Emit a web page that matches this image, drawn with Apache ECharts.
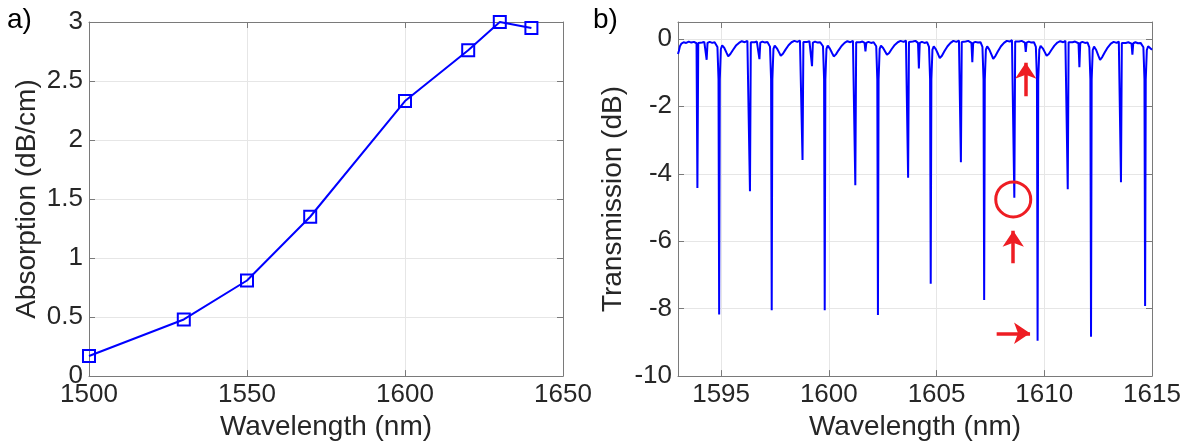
<!DOCTYPE html>
<html><head><meta charset="utf-8">
<script src="https://cdn.jsdelivr.net/npm/echarts@6/dist/echarts.min.js"></script>
<style>html,body{margin:0;padding:0;background:#fff}#c{width:1185px;height:446px}</style>
</head><body><div id="c"></div>
<script>
// ---- Panel a data ----
const absWavelength = [1500, 1530, 1550, 1570, 1600, 1620, 1630, 1640];
const absorption = [0.17, 0.48, 0.81, 1.35, 2.33, 2.76, 3.00, 2.95];

// ---- Panel b data: [wavelength (nm), transmission (dB)] ----
const transmission = [
[1593.00,-0.45],[1593.04,-0.36],[1593.09,-0.22],[1593.16,-0.14],[1593.26,-0.10],[1593.38,-0.12],[1593.50,-0.08],[1593.62,-0.11],[1593.74,-0.09],[1593.86,-0.13],
[1593.90,-4.42],[1593.94,-0.12],[1594.02,-0.08],[1594.12,-0.11],[1594.22,-0.09],[1594.29,-0.13],
[1594.33,-0.62],[1594.37,-0.12],[1594.47,-0.09],[1594.59,-0.12],[1594.70,-0.10],[1594.83,-0.24],[1594.88,-1.2],
[1594.91,-8.17],[1594.94,-1.2],[1594.99,-0.30],[1595.05,-0.19],[1595.15,-0.27],[1595.25,-0.41],[1595.33,-0.52],[1595.43,-0.45],[1595.55,-0.33],[1595.69,-0.20],[1595.83,-0.12],[1595.96,-0.07],[1596.10,-0.10],[1596.22,-0.06],[1596.30,-0.11],
[1596.34,-4.52],[1596.38,-0.10],[1596.46,-0.07],[1596.56,-0.10],[1596.66,-0.08],[1596.74,-0.12],
[1596.78,-0.60],[1596.82,-0.11],[1596.92,-0.08],[1597.04,-0.11],[1597.15,-0.09],[1597.27,-0.23],[1597.32,-1.2],
[1597.35,-8.05],[1597.38,-1.2],[1597.43,-0.30],[1597.49,-0.20],[1597.59,-0.28],[1597.69,-0.40],[1597.77,-0.50],[1597.87,-0.44],[1597.99,-0.32],[1598.13,-0.19],[1598.27,-0.10],[1598.40,-0.06],[1598.54,-0.09],[1598.66,-0.05],[1598.74,-0.10],
[1598.78,-3.59],[1598.82,-0.09],[1598.90,-0.06],[1599.00,-0.09],[1599.10,-0.07],[1599.18,-0.12],
[1599.22,-0.81],[1599.26,-0.11],[1599.36,-0.08],[1599.48,-0.11],[1599.60,-0.10],[1599.73,-0.22],[1599.78,-1.2],
[1599.81,-8.05],[1599.84,-1.2],[1599.89,-0.30],[1599.95,-0.20],[1600.05,-0.29],[1600.15,-0.42],[1600.23,-0.52],[1600.33,-0.46],[1600.45,-0.34],[1600.59,-0.21],[1600.73,-0.12],[1600.86,-0.07],[1601.00,-0.10],[1601.12,-0.06],[1601.19,-0.11],
[1601.23,-4.34],[1601.27,-0.10],[1601.35,-0.07],[1601.45,-0.10],[1601.56,-0.08],[1601.66,-0.12],
[1601.70,-0.37],[1601.74,-0.12],[1601.84,-0.09],[1601.96,-0.12],[1602.08,-0.10],[1602.20,-0.22],[1602.25,-1.2],
[1602.28,-8.19],[1602.31,-1.2],[1602.36,-0.30],[1602.42,-0.20],[1602.52,-0.27],[1602.62,-0.38],[1602.70,-0.47],[1602.80,-0.42],[1602.92,-0.30],[1603.06,-0.18],[1603.20,-0.10],[1603.33,-0.06],[1603.47,-0.09],[1603.58,-0.05],[1603.64,-0.10],
[1603.68,-4.12],[1603.72,-0.09],[1603.80,-0.05],[1603.90,-0.08],[1604.02,-0.06],[1604.14,-0.12],
[1604.18,-0.88],[1604.22,-0.12],[1604.32,-0.09],[1604.44,-0.12],[1604.56,-0.10],[1604.65,-0.24],[1604.70,-1.2],
[1604.73,-7.26],[1604.76,-1.2],[1604.81,-0.32],[1604.87,-0.22],[1604.97,-0.31],[1605.07,-0.45],[1605.15,-0.57],[1605.25,-0.50],[1605.37,-0.36],[1605.51,-0.22],[1605.65,-0.12],[1605.78,-0.06],[1605.92,-0.09],[1606.04,-0.05],[1606.09,-0.10],
[1606.13,-3.66],[1606.17,-0.09],[1606.25,-0.05],[1606.35,-0.08],[1606.47,-0.06],[1606.62,-0.12],
[1606.66,-0.69],[1606.70,-0.12],[1606.80,-0.09],[1606.92,-0.11],[1607.04,-0.10],[1607.13,-0.24],[1607.18,-1.2],
[1607.21,-7.74],[1607.24,-1.2],[1607.29,-0.32],[1607.35,-0.22],[1607.45,-0.32],[1607.55,-0.47],[1607.63,-0.59],[1607.73,-0.51],[1607.85,-0.37],[1607.99,-0.22],[1608.13,-0.12],[1608.26,-0.06],[1608.40,-0.08],[1608.50,-0.04],[1608.57,-0.09],
[1608.61,-4.71],[1608.65,-0.08],[1608.73,-0.05],[1608.83,-0.08],[1608.95,-0.06],[1609.10,-0.11],
[1609.14,-0.39],[1609.18,-0.11],[1609.28,-0.08],[1609.40,-0.11],[1609.52,-0.10],[1609.61,-0.24],[1609.66,-1.2],
[1609.69,-8.95],[1609.72,-1.2],[1609.77,-0.32],[1609.83,-0.21],[1609.93,-0.28],[1610.03,-0.40],[1610.11,-0.50],[1610.21,-0.45],[1610.33,-0.33],[1610.47,-0.20],[1610.61,-0.11],[1610.74,-0.07],[1610.88,-0.10],[1610.98,-0.06],[1611.05,-0.11],
[1611.09,-4.46],[1611.13,-0.10],[1611.21,-0.07],[1611.31,-0.10],[1611.43,-0.08],[1611.59,-0.13],
[1611.63,-0.84],[1611.67,-0.12],[1611.77,-0.09],[1611.89,-0.12],[1612.01,-0.11],[1612.09,-0.25],[1612.14,-1.2],
[1612.17,-8.83],[1612.20,-1.2],[1612.25,-0.33],[1612.31,-0.23],[1612.41,-0.33],[1612.51,-0.50],[1612.59,-0.62],[1612.69,-0.54],[1612.81,-0.40],[1612.95,-0.25],[1613.09,-0.14],[1613.22,-0.09],[1613.36,-0.12],[1613.46,-0.08],[1613.52,-0.13],
[1613.56,-4.25],[1613.60,-0.12],[1613.68,-0.09],[1613.78,-0.12],[1613.90,-0.10],[1614.05,-0.14],
[1614.09,-0.47],[1614.13,-0.13],[1614.23,-0.10],[1614.35,-0.13],[1614.47,-0.12],[1614.60,-0.25],[1614.65,-1.2],
[1614.68,-7.92],[1614.71,-1.2],[1614.76,-0.33],[1614.82,-0.22],[1614.91,-0.27],[1615.00,-0.32]
];

// ---- Annotations (data coordinates of panel b) ----
const circleCenter = [1608.56, -4.76];
const arrowSegments = [
  [[1608.56, -6.65], [1608.56, -5.69]],
  [[1609.14, -1.70], [1609.14, -0.71]],
  [[1607.79, -8.73], [1609.34, -8.73]]
];

const FONT = '"Liberation Sans", Arial, Helvetica, sans-serif';
const TXT = '#262626';
const AX = '#7a7a7a';
const GRIDC = '#e6e6e6';
const BLUE = '#0000ff';
const RED = '#ee1d23';
const TICK_FS = 26, TITLE_FS = 28;

function baseAxis(extra) {
  return Object.assign({
    type: 'value',
    axisLine: { show: true, onZero: false, lineStyle: { color: AX, width: 1 } },
    axisTick: { show: true, inside: true, length: 6, lineStyle: { color: AX, width: 1 } },
    axisLabel: { color: TXT, fontSize: TICK_FS, fontFamily: FONT, margin: 6, formatter: v => String(v) },
    splitLine: { show: true, lineStyle: { color: GRIDC, width: 1 } },
    nameTextStyle: { color: TXT, fontSize: TITLE_FS, fontFamily: FONT }
  }, extra);
}
function mirrorAxis(extra) {
  return Object.assign(baseAxis(extra), {
    axisLabel: { show: false },
    splitLine: { show: false }
  });
}

const chart = echarts.init(document.getElementById('c'), null, { renderer: 'canvas' });
chart.setOption({
  backgroundColor: '#ffffff',
  animation: false,
  textStyle: { fontFamily: FONT },
  grid: [
    { left: 89, top: 22, width: 474, height: 357 },
    { left: 678, top: 22, width: 474, height: 357 }
  ],
  xAxis: [
    baseAxis({ gridIndex: 0, position: 'bottom', min: 1500, max: 1650, interval: 50,
      name: 'Wavelength (nm)', nameLocation: 'middle', nameGap: 31 }),
    mirrorAxis({ gridIndex: 0, position: 'top', min: 1500, max: 1650, interval: 50 }),
    baseAxis({ gridIndex: 1, position: 'bottom', min: 1593, max: 1615, splitNumber: 5,
      name: 'Wavelength (nm)', nameLocation: 'middle', nameGap: 31 }),
    mirrorAxis({ gridIndex: 1, position: 'top', min: 1593, max: 1615, splitNumber: 5 })
  ],
  yAxis: [
    baseAxis({ gridIndex: 0, position: 'left', min: 0, max: 3, interval: 0.5,
      name: 'Absorption (dB/cm)', nameLocation: 'middle', nameGap: 48 }),
    mirrorAxis({ gridIndex: 0, position: 'right', min: 0, max: 3, interval: 0.5 }),
    baseAxis({ gridIndex: 1, position: 'left', min: -10, max: 0.5, interval: 2,
      name: 'Transmission (dB)', nameLocation: 'middle', nameGap: 51 }),
    mirrorAxis({ gridIndex: 1, position: 'right', min: -10, max: 0.5, interval: 2 })
  ],
  series: [
    {
      type: 'line', xAxisIndex: 0, yAxisIndex: 0,
      data: absWavelength.map((w, i) => [w, absorption[i]]),
      symbol: 'rect', symbolSize: 12, showSymbol: true,
      itemStyle: { color: 'rgba(0,0,0,0)', borderColor: BLUE, borderWidth: 2 },
      lineStyle: { color: BLUE, width: 2 },
      clip: false
    },
    {
      type: 'line', xAxisIndex: 2, yAxisIndex: 2,
      data: transmission, showSymbol: false, symbol: 'none',
      lineStyle: { color: BLUE, width: 2 }
    },
    {
      type: 'lines', coordinateSystem: 'cartesian2d', xAxisIndex: 2, yAxisIndex: 2,
      data: arrowSegments.map(s => ({ coords: s })),
      symbol: ['none', 'arrow'], symbolSize: [12, 16],
      lineStyle: { color: RED, width: 3.5, opacity: 1 },
      z: 5
    },
    {
      type: 'scatter', xAxisIndex: 2, yAxisIndex: 2,
      data: [circleCenter], symbol: 'circle', symbolSize: 35,
      itemStyle: { color: 'rgba(0,0,0,0)', borderColor: RED, borderWidth: 3, opacity: 1 },
      z: 5
    }
  ],
  graphic: [
    { type: 'text', left: 7, top: 6, style: { text: 'a)', fontSize: 28, fontFamily: FONT, fill: '#000' } },
    { type: 'text', left: 593, top: 6, style: { text: 'b)', fontSize: 28, fontFamily: FONT, fill: '#000' } }
  ]
});
</script></body></html>
